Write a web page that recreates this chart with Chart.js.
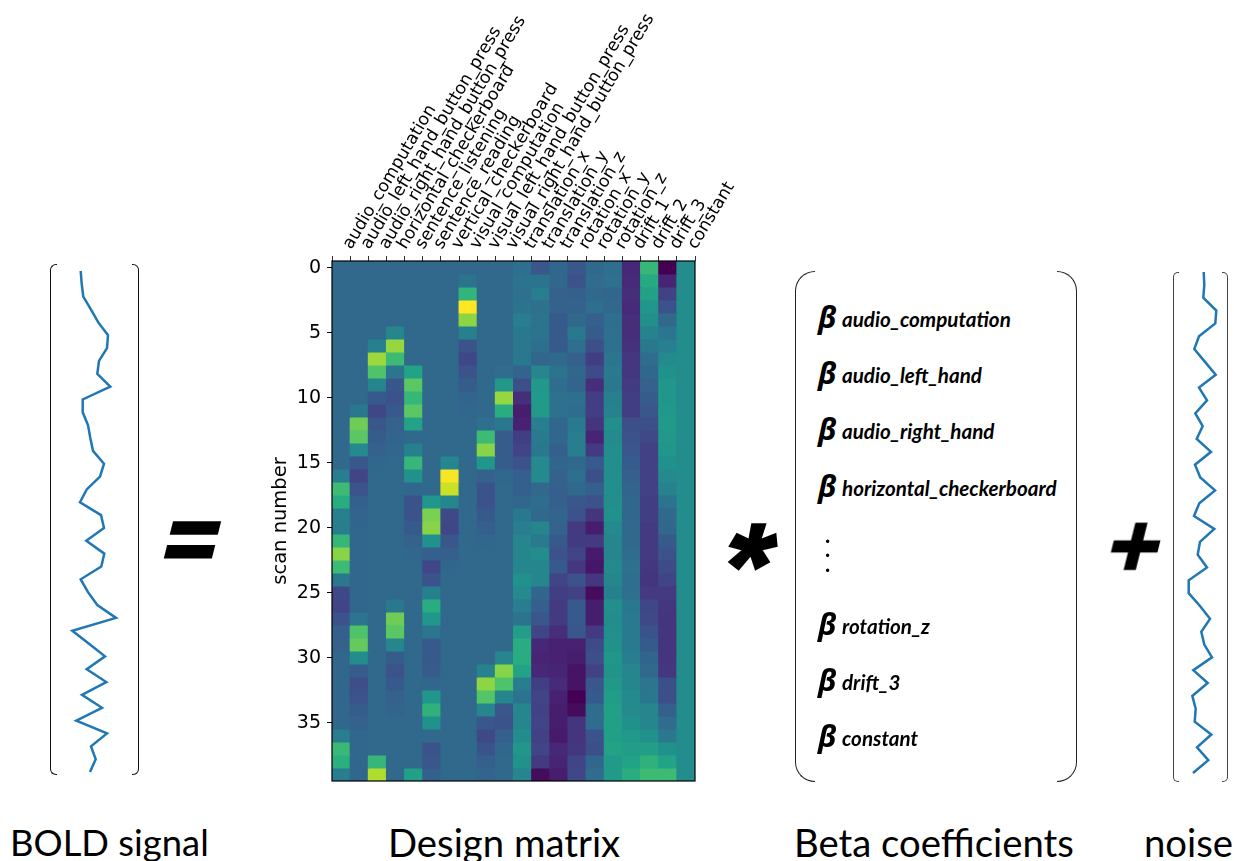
<!DOCTYPE html>
<html>
<head>
<meta charset="utf-8">
<title>GLM design matrix</title>
<script src="https://cdn.jsdelivr.net/npm/chart.js@4"></script>
<style>
  html, body { margin: 0; padding: 0; background: #fff; }
  #page { position: relative; width: 1234px; height: 861px; overflow: hidden; }
  #page canvas { position: absolute; }
  .txt { position: absolute; white-space: nowrap; color: #000; }
  .caption { font-family: Lato, sans-serif; font-size: 38.3px; line-height: 40px; }
  .op { font-family: "Liberation Sans", sans-serif; font-weight: bold; line-height: 1; transform: skewX(-14deg); -webkit-text-stroke: 2.5px #000; }
  .beta { font-family: "Open Sans", sans-serif; font-weight: bold; font-style: italic; font-size: 30px; line-height: 34px; left: 818px; }
  .betaName { font-family: Lato, sans-serif; font-weight: bold; font-style: italic; font-size: 20.6px; line-height: 22px; left: 842px; }
  .dot { font-family: Lato, sans-serif; font-weight: bold; font-size: 22px; line-height: 20px; left: 825px; }
  .brk { position: absolute; box-sizing: border-box; border-style: solid; }
</style>
</head>
<body>
<div id="page">
  <canvas id="bold"></canvas>
  <canvas id="design"></canvas>
  <canvas id="noise"></canvas>
</div>
<script>
const audioComputation = [34,34,34,34,34,34,34,34,34,34, 34,34,34,34,34,34,42,68,62,43, 42,66,82,68,40,22,20,26,30,31, 33,33,33,33,33,33,42,67,63,42];
const audioLeftHand = [34,34,34,34,34,34,34,34,34,34, 34,40,78,74,47,27,20,25,30,32, 33,33,33,33,33,33,33,39,72,76, 48,29,24,25,29,31,33,33,33,33];
const audioRightHand = [34,34,34,34,34,34,43,85,72,45, 28,21,27,29,31,33,34,34,34,34, 34,34,34,34,34,34,34,34,34,34, 34,34,34,34,34,34,34,34,66,88];
const horizontalChecker = [34,34,34,34,34,46,84,68,39,27, 25,28,31,32,33,34,34,34,34,34, 34,34,34,34,34,34,40,78,74,46, 29,25,28,31,32,34,34,34,34,34];
const sentenceListening = [34,34,34,34,34,34,34,34,58,74, 66,74,58,34,43,66,50,33,26,26, 28,31,33,34,34,34,34,34,34,34, 34,34,34,34,34,34,34,34,34,56];
const sentenceReading = [34,34,34,34,34,34,34,34,34,34, 34,34,34,34,34,34,34,34,52,80, 82,50,30,21,25,43,62,52,39,28, 28,29,33,52,64,50,34,26,27,30];
const verticalChecker = [34,34,34,34,34,34,34,34,34,34, 34,34,34,34,34,46,99,92,46,22, 21,27,30,33,34,34,34,34,34,34, 34,34,34,34,34,34,34,34,34,34];
const visualComputation = [34,38,65,100,83,43,26,21,26,29, 32,33,34,34,34,34,34,34,34,34, 34,34,34,34,34,34,34,34,34,34, 34,34,34,34,34,34,34,34,34,34];
const visualLeftHand = [34,34,34,34,34,34,34,34,34,34, 34,34,36,68,82,52,31,25,25,28, 30,33,34,34,34,34,34,34,34,34, 34,44,83,73,45,27,22,26,30,32];
const visualRightHand = [34,34,34,34,34,34,34,34,35,53, 84,62,40,29,29,29,33,34,34,34, 34,34,34,34,34,34,34,34,34,34, 45,82,72,45,27,25,30,33,34,34];
const translationX = [36,38,37,38,42,40,40,40,32,24, 13,8,9,18,20,25,30,30,33,40, 42,45,46,46,50,47,42,38,55,62, 62,58,42,38,46,46,48,52,50,46];
const translationY = [27,38,42,37,38,38,36,33,45,53, 54,54,42,41,40,47,47,34,35,34, 45,41,48,46,46,33,30,27,20,11, 10,11,18,20,19,20,19,20,17,3];
const translationZ = [33,33,31,31,28,28,28,34,38,35, 37,37,33,33,30,33,31,30,30,32, 31,28,25,28,20,18,17,17,13,9, 9,10,12,9,8,8,7,11,10,8];
const rotationX = [27,25,30,31,34,40,36,30,33,32, 36,35,41,42,42,34,36,34,27,25, 17,17,20,16,25,19,28,28,27,9, 8,5,5,0,3,15,15,16,20,21];
const rotationY = [34,35,34,36,30,29,24,18,23,13, 18,18,15,10,17,28,24,30,25,15, 8,17,7,6,16,3,8,8,17,23, 24,19,27,28,35,35,26,24,33,35];
const rotationZ = [36,37,33,34,36,37,37,39,41,40, 43,44,49,47,49,49,49,49,49,50, 47,46,46,47,46,43,49,48,49,50, 52,51,53,55,56,56,56,58,54,54];
const drift1 = [11,12,13,12,13,13,14,16,16,17, 18,18,24,25,27,29,30,32,33,33, 34,34,35,37,36,36,40,41,41,41, 42,45,46,47,47,50,53,55,58,62];
const drift2 = [66,61,57,52,49,44,40,35,33,31, 29,27,24,22,19,19,19,19,18,18, 17,17,17,16,15,17,21,22,26,28, 32,34,39,40,45,46,50,55,64,68];
const drift3 = [0,10,19,25,34,39,43,47,50,52, 52,53,54,53,52,50,47,44,38,34, 33,28,25,23,20,17,16,15,15,15, 15,16,24,24,30,35,40,50,58,68];
const constant = [48,48,48,48,48,48,48,48,48,48, 48,48,48,48,48,48,48,48,48,48, 48,48,48,48,48,48,48,48,48,48, 48,48,48,48,48,48,48,48,48,48];

const designColumns = [audioComputation, audioLeftHand, audioRightHand, horizontalChecker, sentenceListening,
    sentenceReading, verticalChecker, visualComputation, visualLeftHand, visualRightHand,
    translationX, translationY, translationZ, rotationX, rotationY, rotationZ, drift1, drift2, drift3, constant];

const columnLabels = ['audio_computation', 'audio_left_hand_button_press', 'audio_right_hand_button_press',
    'horizontal_checkerboard', 'sentence_listening', 'sentence_reading', 'vertical_checkerboard',
    'visual_computation', 'visual_left_hand_button_press', 'visual_right_hand_button_press',
    'translation_x', 'translation_y', 'translation_z', 'rotation_x', 'rotation_y', 'rotation_z',
    'drift_1', 'drift_2', 'drift_3', 'constant'];

const scanTicks = [0, 5, 10, 15, 20, 25, 30, 35];

/* the two signals, one value per scan */
const boldSignal = [40.7,41.7,43.3,51,58.3,68,67,59,57.3,70.3, 42.7,42.7,48,50.3,53,64,60,46.7,40,61, 64,46.3,64.3,61.3,40.7,48,57.3,76,32.3,48.7, 65,46.7,66.3,42,62,36.3,67,51,55.7,50];
const noiseSignal = [38.7,39.3,38.3,51.3,50.3,34,29.3,40,50.7,34, 42,30.3,37.7,31.7,46,30,35.3,50,34.3,29, 49.3,35,32.7,42,23.7,23.7,35,45,36.3,39.3, 47,28.3,42.7,27.3,30.7,29.7,46.3,32,43.3,28];

const betaNames = ['audio_computation', 'audio_left_hand', 'audio_right_hand', 'horizontal_checkerboard', 'rotation_z', 'drift_3', 'constant'];
const betaTops = [308, 364, 420, 477, 615, 671, 727];

const viridisStops = ['#440154', '#482475', '#414487', '#355f8d', '#2a788e', '#21918c', '#22a884', '#44bf70', '#7ad151', '#bddf26', '#fde725'];

function hexToRgb(hex) {
    return [1, 3, 5].map(i => parseInt(hex.substr(i, 2), 16));
}

function viridis(v) {
    const pos = Math.min(v / 10, 9.999);
    const i = Math.floor(pos);
    const a = hexToRgb(viridisStops[i]);
    const b = hexToRgb(viridisStops[i + 1]);
    const c = a.map((x, k) => Math.round(x + (b[k] - x) * (pos - i)));
    return 'rgb(' + c.join(',') + ')';
}

Chart.defaults.animation = false;
Chart.defaults.responsive = false;
Chart.defaults.devicePixelRatio = 1;
Chart.defaults.plugins.legend.display = false;
Chart.defaults.plugins.tooltip.enabled = false;

const page = document.getElementById('page');

function place(canvas, left, top, width, height) {
    canvas.width = width;
    canvas.height = height;
    canvas.style.left = left + 'px';
    canvas.style.top = top + 'px';
    canvas.style.width = width + 'px';
    canvas.style.height = height + 'px';
}

/* frame around the heatmap */
const frame = {
    id: 'frame',
    afterDraw(chart) {
        const a = chart.chartArea, ctx = chart.ctx;
        ctx.save();
        ctx.strokeStyle = '#000';
        ctx.lineWidth = 1.2;
        ctx.strokeRect(a.left, a.top, a.right - a.left, a.bottom - a.top);
        ctx.restore();
    }
};

/* design matrix: one floating bar per cell */
function plotDesign() {
    const canvas = document.getElementById('design');
    place(canvas, 262, 0, 500, 800);
    const rows = designColumns[0].map((_, r) => ({
        data: designColumns.map(() => [r - 0.5, r + 0.5]),
        backgroundColor: designColumns.map(col => viridis(col[r])),
        borderWidth: 0,
        inflateAmount: 0.5,
        barPercentage: 1,
        categoryPercentage: 1,
        grouped: false
    }));
    return new Chart(canvas, {
        type: 'bar',
        data: { labels: columnLabels, datasets: rows },
        plugins: [frame],
        options: {
            layout: { autoPadding: false, padding: { left: 0, top: 0, right: 67, bottom: 19 } },
            scales: {
                x: {
                    position: 'top',
                    grid: { drawOnChartArea: false, tickLength: 5, color: '#000', tickColor: '#333' },
                    border: { display: false },
                    ticks: {
                        autoSkip: false, minRotation: 59, maxRotation: 59, padding: 3, labelOffset: 24,
                        color: '#000', font: { family: 'DejaVu Sans', size: 17.2 }
                    },
                    afterFit: s => { s.height = 261; }
                },
                y: {
                    reverse: true,
                    min: -0.5,
                    max: 39.5,
                    afterBuildTicks: s => { s.ticks = scanTicks.map(v => ({ value: v })); },
                    grid: { drawOnChartArea: false, tickLength: 5, color: '#000', tickColor: '#000' },
                    border: { display: false },
                    ticks: { padding: 6, labelOffset: 1, color: '#000', font: { family: 'DejaVu Sans', size: 19 } },
                    title: {
                        display: true, text: 'scan number', color: '#000', padding: { top: 7, bottom: 0 },
                        font: { family: 'DejaVu Sans', size: 19.5 }
                    },
                    afterFit: s => { s.width = 70; }
                }
            }
        }
    });
}

function plotSignal(id, values, left, top, width, height) {
    const canvas = document.getElementById(id);
    place(canvas, left, top, width, height);
    return new Chart(canvas, {
        type: 'scatter',
        data: {
            datasets: [{
                data: values.map((v, i) => ({ x: v, y: i })),
                showLine: true,
                borderColor: '#1f77b4',
                borderWidth: 2.5,
                pointRadius: 0,
                tension: 0,
                clip: false
            }]
        },
        options: {
            layout: { padding: { top: 10, bottom: 10 } },
            scales: {
                x: { display: false, min: 0, max: width },
                y: { display: false, reverse: true, min: 0, max: 39 }
            }
        }
    });
}

function addText(cls, text, left, top, extra) {
    const d = document.createElement('div');
    d.className = 'txt ' + cls;
    d.textContent = text;
    if (left !== null) d.style.left = left + 'px';
    d.style.top = top + 'px';
    Object.assign(d.style, extra || {});
    page.appendChild(d);
}

/* side = 'left' or 'right' */
function addBracket(side, x, top, bottom, reach, radius, color) {
    const b = document.createElement('div');
    b.className = 'brk';
    b.style.top = top + 'px';
    b.style.height = (bottom - top) + 'px';
    b.style.width = reach + 'px';
    b.style.borderColor = color;
    b.style.borderWidth = '1.5px';
    if (side === 'left') {
        b.style.left = x + 'px';
        b.style.borderRightWidth = '0';
        b.style.borderRadius = radius + 'px 0 0 ' + radius + 'px';
    } else {
        b.style.left = (x - reach) + 'px';
        b.style.borderLeftWidth = '0';
        b.style.borderRadius = '0 ' + radius + 'px ' + radius + 'px 0';
    }
    page.appendChild(b);
}

plotSignal('bold', boldSignal, 40, 261, 110, 521);
plotDesign();
plotSignal('noise', noiseSignal, 1165, 262, 69, 521);

addBracket('left', 50, 264, 775, 7, 6, '#111');
addBracket('right', 139, 264, 775, 7, 6, '#111');
addBracket('left', 795, 271, 782, 20, 20, '#222');
addBracket('right', 1077, 271, 782, 20, 20, '#222');
addBracket('left', 1173, 272, 782, 6, 5, '#444');
addBracket('right', 1228, 272, 782, 6, 5, '#444');

addText('caption', 'BOLD signal', 10, 822, { fontSize: '36.4px' });
addText('caption', 'Design matrix', 388, 822);
addText('caption', 'Beta coefficients', 794, 822);
addText('caption', 'noise', 1144, 822);

addText('op', '=', 167, 495, { fontSize: '88px', webkitTextStroke: '4px #000' });
addText('op', '*', 725, 505, { fontSize: '120px' });
addText('op', '+', 1110, 502, { fontSize: '88px' });

betaNames.forEach((name, i) => {
    addText('beta', '\u03b2', null, betaTops[i] - 8);
    addText('betaName', name, null, betaTops[i]);
});
[525, 539, 554].forEach(top => addText('dot', '.', null, top));
</script>
</body>
</html>
